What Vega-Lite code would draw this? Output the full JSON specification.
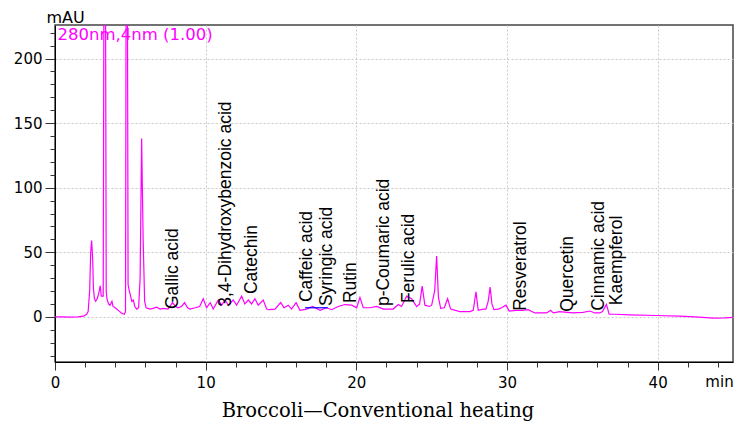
{
  "$schema": "https://vega.github.io/schema/vega-lite/v6.json",
  "width": 678,
  "height": 337,
  "autosize": {"type": "none"},
  "padding": {"left": 55, "top": 25, "right": 6, "bottom": 66},
  "background": "white",
  "config": {
    "view": {"stroke": "#444", "strokeWidth": 1.5},
    "axis": {
      "domainColor": "black",
      "tickColor": "#333",
      "labelColor": "black",
      "labelFont": "DejaVu Sans",
      "labelFontSize": 15,
      "labelFlush": false,
      "labelOverlap": false,
      "titleFont": "DejaVu Sans",
      "titleFontSize": 15,
      "titleFontWeight": "normal",
      "titleColor": "black",
      "gridColor": "#c8c8c8",
      "gridDash": [2, 2]
    }
  },
  "title": {
    "text": "Broccoli\u2014Conventional heating",
    "orient": "bottom",
    "anchor": "middle",
    "font": "DejaVu Serif",
    "fontSize": 19.5,
    "fontWeight": "normal",
    "color": "black",
    "offset": 12,
    "dx": -16
  },
  "datasets": {
    "trace": [
      {"t": 0, "v": 0}, {"t": 0.5, "v": 0}, {"t": 1.0, "v": -0.3}, {"t": 1.5, "v": 0}, {"t": 1.9, "v": 0.5},
      {"t": 2.1, "v": 2}, {"t": 2.2, "v": 4}, {"t": 2.3, "v": 20}, {"t": 2.37, "v": 50}, {"t": 2.43, "v": 59},
      {"t": 2.5, "v": 45}, {"t": 2.55, "v": 22}, {"t": 2.62, "v": 14}, {"t": 2.7, "v": 12}, {"t": 2.8, "v": 14},
      {"t": 2.9, "v": 18}, {"t": 3.0, "v": 24}, {"t": 3.07, "v": 16}, {"t": 3.2, "v": 16}, {"t": 3.3, "v": 520},
      {"t": 3.4, "v": 20}, {"t": 3.45, "v": 14}, {"t": 3.55, "v": 10}, {"t": 3.65, "v": 9}, {"t": 3.78, "v": 12},
      {"t": 3.85, "v": 8}, {"t": 4.0, "v": 7}, {"t": 4.2, "v": 5}, {"t": 4.4, "v": 3}, {"t": 4.6, "v": 2},
      {"t": 4.68, "v": 4}, {"t": 4.76, "v": 520}, {"t": 4.85, "v": 25}, {"t": 4.93, "v": 20}, {"t": 5.0, "v": 17},
      {"t": 5.1, "v": 12}, {"t": 5.2, "v": 13}, {"t": 5.3, "v": 8}, {"t": 5.42, "v": 6}, {"t": 5.55, "v": 7},
      {"t": 5.65, "v": 30}, {"t": 5.75, "v": 138}, {"t": 5.85, "v": 60}, {"t": 5.95, "v": 12}, {"t": 6.05, "v": 7},
      {"t": 6.3, "v": 6}, {"t": 6.5, "v": 6.5}, {"t": 6.75, "v": 7.5}, {"t": 6.97, "v": 6}, {"t": 7.2, "v": 6.5},
      {"t": 7.5, "v": 6}, {"t": 7.8, "v": 11}, {"t": 8.0, "v": 8}, {"t": 8.16, "v": 7}, {"t": 8.4, "v": 8},
      {"t": 8.6, "v": 11}, {"t": 8.8, "v": 7}, {"t": 8.96, "v": 6}, {"t": 9.3, "v": 7}, {"t": 9.6, "v": 8},
      {"t": 9.84, "v": 14}, {"t": 10.06, "v": 7}, {"t": 10.3, "v": 11}, {"t": 10.5, "v": 6}, {"t": 10.84, "v": 13},
      {"t": 11.06, "v": 9}, {"t": 11.3, "v": 13}, {"t": 11.5, "v": 9}, {"t": 11.83, "v": 13}, {"t": 12.05, "v": 9},
      {"t": 12.39, "v": 16}, {"t": 12.6, "v": 10}, {"t": 12.83, "v": 13}, {"t": 13.05, "v": 10}, {"t": 13.27, "v": 14},
      {"t": 13.49, "v": 9}, {"t": 13.82, "v": 13}, {"t": 14.05, "v": 6}, {"t": 14.2, "v": 5.5}, {"t": 14.6, "v": 6},
      {"t": 14.98, "v": 11}, {"t": 15.2, "v": 7}, {"t": 15.48, "v": 9}, {"t": 15.7, "v": 6}, {"t": 16.0, "v": 11},
      {"t": 16.26, "v": 5}, {"t": 16.7, "v": 6}, {"t": 17.1, "v": 8}, {"t": 17.6, "v": 5}, {"t": 18.03, "v": 7},
      {"t": 18.36, "v": 5.5}, {"t": 18.8, "v": 8}, {"t": 19.24, "v": 9.5}, {"t": 19.7, "v": 9}, {"t": 20.02, "v": 7},
      {"t": 20.24, "v": 15}, {"t": 20.46, "v": 7}, {"t": 20.9, "v": 7}, {"t": 21.35, "v": 8}, {"t": 21.8, "v": 6},
      {"t": 22.2, "v": 6}, {"t": 22.45, "v": 6}, {"t": 22.78, "v": 9.5}, {"t": 23.0, "v": 8}, {"t": 23.34, "v": 16},
      {"t": 23.67, "v": 14}, {"t": 24.0, "v": 8}, {"t": 24.2, "v": 10}, {"t": 24.37, "v": 23.7}, {"t": 24.55, "v": 9},
      {"t": 24.84, "v": 8}, {"t": 25.0, "v": 9}, {"t": 25.2, "v": 20}, {"t": 25.33, "v": 47}, {"t": 25.45, "v": 15},
      {"t": 25.6, "v": 6.5}, {"t": 25.84, "v": 7}, {"t": 26.06, "v": 14}, {"t": 26.26, "v": 6}, {"t": 26.87, "v": 4},
      {"t": 27.54, "v": 4}, {"t": 27.76, "v": 5}, {"t": 27.94, "v": 19.3}, {"t": 28.09, "v": 5}, {"t": 28.42, "v": 6},
      {"t": 28.6, "v": 6}, {"t": 28.75, "v": 12}, {"t": 28.88, "v": 23}, {"t": 29.0, "v": 10}, {"t": 29.13, "v": 5.5},
      {"t": 29.42, "v": 6}, {"t": 29.64, "v": 7}, {"t": 29.93, "v": 9}, {"t": 30.15, "v": 4.5}, {"t": 30.6, "v": 5},
      {"t": 31.0, "v": 5}, {"t": 31.4, "v": 5.5}, {"t": 31.85, "v": 3}, {"t": 32.3, "v": 3}, {"t": 32.63, "v": 3},
      {"t": 32.9, "v": 5}, {"t": 33.07, "v": 3}, {"t": 33.5, "v": 4}, {"t": 34.0, "v": 3.5}, {"t": 34.37, "v": 3},
      {"t": 35.05, "v": 3.5}, {"t": 35.5, "v": 4.5}, {"t": 35.83, "v": 3}, {"t": 36.16, "v": 3}, {"t": 36.34, "v": 4},
      {"t": 36.6, "v": 9.6}, {"t": 36.78, "v": 2}, {"t": 37.2, "v": 2}, {"t": 38.15, "v": 1.5}, {"t": 39.9, "v": 1},
      {"t": 41.45, "v": 0.5}, {"t": 42.5, "v": 0}, {"t": 43.7, "v": -1}, {"t": 44.5, "v": -0.8}, {"t": 45, "v": -0.5}
    ],
    "labels": [
      {"name": "Gallic acid", "t": 7.83, "v": 6},
      {"name": "3,4-Dihydroxybenzoic acid", "t": 11.35, "v": 7.8},
      {"name": "Catechin", "t": 13.05, "v": 17.6},
      {"name": "Caffeic acid", "t": 16.7, "v": 11.4},
      {"name": "Syringic acid", "t": 18.05, "v": 8.3},
      {"name": "Rutin", "t": 19.64, "v": 10.6},
      {"name": "p-Coumaric acid", "t": 21.83, "v": 8.3},
      {"name": "Ferulic acid", "t": 23.49, "v": 10.6},
      {"name": "Resveratrol", "t": 30.9, "v": 4.6},
      {"name": "Quercetin", "t": 34.04, "v": 3.9},
      {"name": "Cinnamic acid", "t": 36.1, "v": 4.6},
      {"name": "Kaempferol", "t": 37.27, "v": 9}
    ],
    "baseline": [
      {"t": 16.6, "t2": 18.1, "v": 7}
    ]
  },
  "resolve": {"axis": {"x": "independent", "y": "independent"}},
  "layer": [
    {
      "data": {"name": "trace"},
      "mark": {"type": "line", "color": "#ff00ff", "strokeWidth": 1.2, "clip": true, "interpolate": "linear"},
      "encoding": {
        "x": {
          "field": "t", "type": "quantitative",
          "scale": {"domain": [0, 45], "nice": false, "zero": false},
          "axis": {
            "orient": "bottom",
            "values": [0, 10, 20, 30, 40],
            "grid": true,
            "tickSize": 8,
            "labelPadding": 5,
            "title": "min",
            "titleX": 664,
            "titleY": 19,
            "titleAlign": "center",
            "titleBaseline": "middle",
            "titleAnchor": null
          }
        },
        "y": {
          "field": "v", "type": "quantitative",
          "scale": {"domain": [-35, 226], "nice": false, "zero": false},
          "axis": {
            "orient": "left",
            "values": [0, 50, 100, 150, 200],
            "grid": true,
            "tickSize": 10,
            "labelPadding": 3,
            "title": "mAU",
            "titleFontSize": 16,
            "titleAngle": 0,
            "titleX": 10,
            "titleY": -3,
            "titleAlign": "center",
            "titleBaseline": "alphabetic"
          }
        }
      }
    },
    {
      "data": {"name": "labels"},
      "mark": {"type": "text", "angle": 270, "align": "left", "baseline": "middle", "font": "Liberation Sans", "fontSize": 17.5, "color": "black"},
      "encoding": {
        "x": {
          "field": "t", "type": "quantitative",
          "scale": {"domain": [0, 45], "nice": false, "zero": false},
          "axis": {
            "orient": "bottom",
            "values": [2, 4, 6, 8, 12, 14, 16, 18, 22, 24, 26, 28, 32, 34, 36, 38, 42, 44],
            "grid": false,
            "domain": false,
            "labels": false,
            "tickSize": 5,
            "title": null
          }
        },
        "y": {
          "field": "v", "type": "quantitative",
          "scale": {"domain": [-35, 226], "nice": false, "zero": false},
          "axis": {
            "orient": "left",
            "values": [-30, -20, -10, 10, 20, 30, 40, 60, 70, 80, 90, 110, 120, 130, 140, 160, 170, 180, 190, 210, 220],
            "grid": false,
            "domain": false,
            "labels": false,
            "tickSize": 5,
            "title": "280nm,4nm (1.00)",
            "titleColor": "#ff00ff",
            "titleFont": "DejaVu Sans",
            "titleFontSize": 16.5,
            "titleAngle": 0,
            "titleX": 2,
            "titleY": 14.5,
            "titleAlign": "left",
            "titleBaseline": "alphabetic"
          }
        },
        "text": {"field": "name", "type": "nominal"}
      }
    },
    {
      "data": {"name": "baseline"},
      "mark": {"type": "rule", "color": "#0000ff", "strokeWidth": 1.2},
      "encoding": {
        "x": {"field": "t", "type": "quantitative", "scale": {"domain": [0, 45], "nice": false, "zero": false}, "axis": null},
        "x2": {"field": "t2"},
        "y": {"field": "v", "type": "quantitative", "scale": {"domain": [-35, 226], "nice": false, "zero": false}, "axis": null}
      }
    }
  ]
}
